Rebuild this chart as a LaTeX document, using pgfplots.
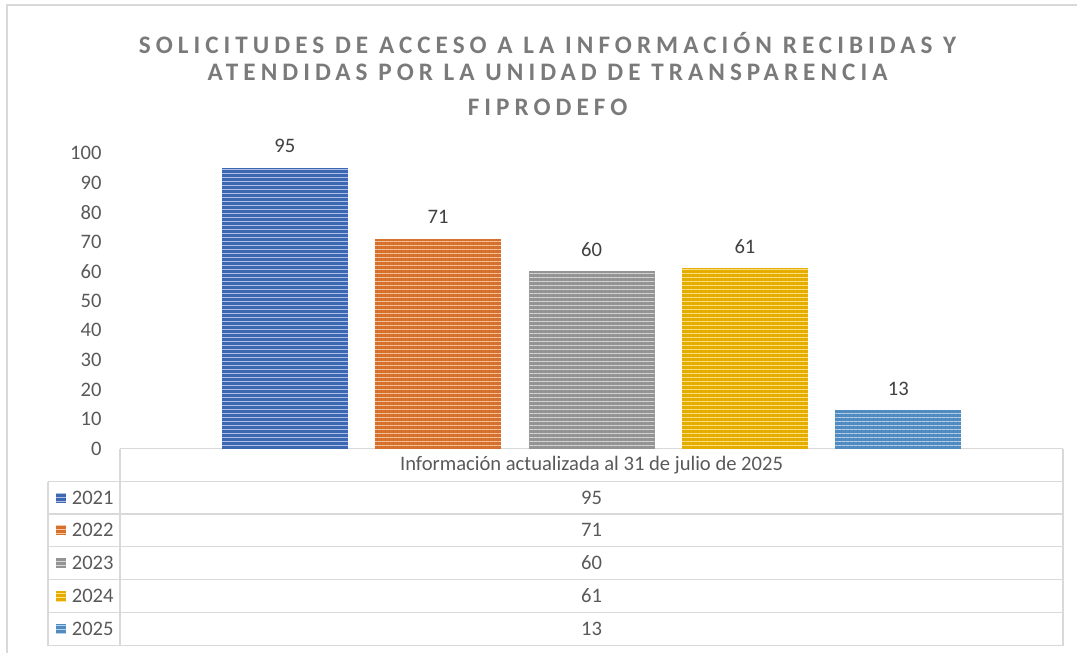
\documentclass[border=0pt]{standalone}
\usepackage{fontspec}
\setmainfont{Carlito}
\newfontfamily\titlefont[LetterSpace=20]{Carlito}
\usepackage{pgfplots}
\pgfplotsset{compat=1.18}
\usetikzlibrary{patterns.meta}
\definecolor{c1}{HTML}{4472C4}
\definecolor{c2}{HTML}{ED7D31}
\definecolor{c3}{HTML}{A5A5A5}
\definecolor{c4}{HTML}{FFC000}
\definecolor{c5}{HTML}{5B9BD5}
\definecolor{txt}{HTML}{595959}
\definecolor{lab}{HTML}{404040}
\definecolor{ttl}{HTML}{7A7A7A}
\definecolor{gridc}{HTML}{D9D9D9}
\tikzset{barstyle/.style={fill=#1!90!black, draw=none,
  postaction={pattern={Lines[angle=0,distance=2pt,line width=0.8pt]}, pattern color=white!55!#1}}}
\newcommand{\tfont}{\fontsize{10.3}{12}\selectfont}
\newcommand{\ttfnt}{\titlefont\bfseries\fontsize{12.6}{15}\selectfont}
\begin{document}
\begin{tikzpicture}
\begin{scope}[x=0.5pt,y=-0.5pt]
  \path (0,0) rectangle (1078,653);
  \draw[gridc, line width=0.8pt] (7,653) -- (7,5) -- (1078,5);
  \node[font=\ttfnt, text=ttl] at (548,43) {SOLICITUDES DE ACCESO A LA INFORMACIÓN RECIBIDAS Y};
  \node[font=\ttfnt, text=ttl] at (548,72) {ATENDIDAS POR LA UNIDAD DE TRANSPARENCIA};
  \node[font=\ttfnt, text=ttl] at (548,107) {FIPRODEFO};
\end{scope}
\begin{axis}[
  at={(60pt,-224.5pt)}, anchor=south west,
  scale only axis, width=472pt, height=148pt,
  xmin=-0.0749, xmax=6.0749, ymin=0, ymax=100,
  ytick={0,10,...,100}, xtick=\empty,
  axis x line*=bottom, axis y line*=left,
  y axis line style={draw=none},
  x axis line style={draw=gridc, line width=0.8pt, -},
  major tick length=0pt,
  /pgf/number format/assume math mode=true,
  yticklabel style={font=\tfont, text=txt, anchor=east, xshift=-5.7pt},
  clip=false,
  nodes near coords,
  every node near coord/.append style={font=\tfont, text=lab, anchor=base, yshift=7.5pt},
]
\addplot[ybar, bar shift=0pt, bar width=0.821, barstyle=c1] coordinates {(1,95)};
\addplot[ybar, bar shift=0pt, bar width=0.821, barstyle=c2] coordinates {(2,71)};
\addplot[ybar, bar shift=0pt, bar width=0.821, barstyle=c3] coordinates {(3,60)};
\addplot[ybar, bar shift=0pt, bar width=0.821, barstyle=c4] coordinates {(4,61)};
\addplot[ybar, bar shift=0pt, bar width=0.821, barstyle=c5] coordinates {(5,13)};
\end{axis}
\begin{scope}[x=0.5pt,y=-0.5pt]
  \draw[gridc, line width=0.8pt] (120,449) -- (120,646);
  \draw[gridc, line width=0.8pt] (1064,449) -- (1064,646);
  \draw[gridc, line width=0.8pt] (48,482) -- (48,646);
  \foreach \yy in {482,514.5,547,580,613,646} {\draw[gridc, line width=0.8pt] (48,\yy) -- (1064,\yy);}
  \node[font=\tfont, text=txt] at (592,465.5) {Información actualizada al 31 de julio de 2025};
  \foreach \yy/\c/\yr/\v in {498/c1/2021/95, 530.5/c2/2022/71, 563.5/c3/2023/60, 596.5/c4/2024/61, 629.5/c5/2025/13} {
    \fill[barstyle=\c] (56,\yy-5) rectangle (66,\yy+5);
    \node[font=\tfont, text=txt, anchor=west, inner sep=0pt] at (71.5,\yy) {\yr};
    \node[font=\tfont, text=txt] at (592,\yy) {\v};
  }
\end{scope}
\end{tikzpicture}
\end{document}
